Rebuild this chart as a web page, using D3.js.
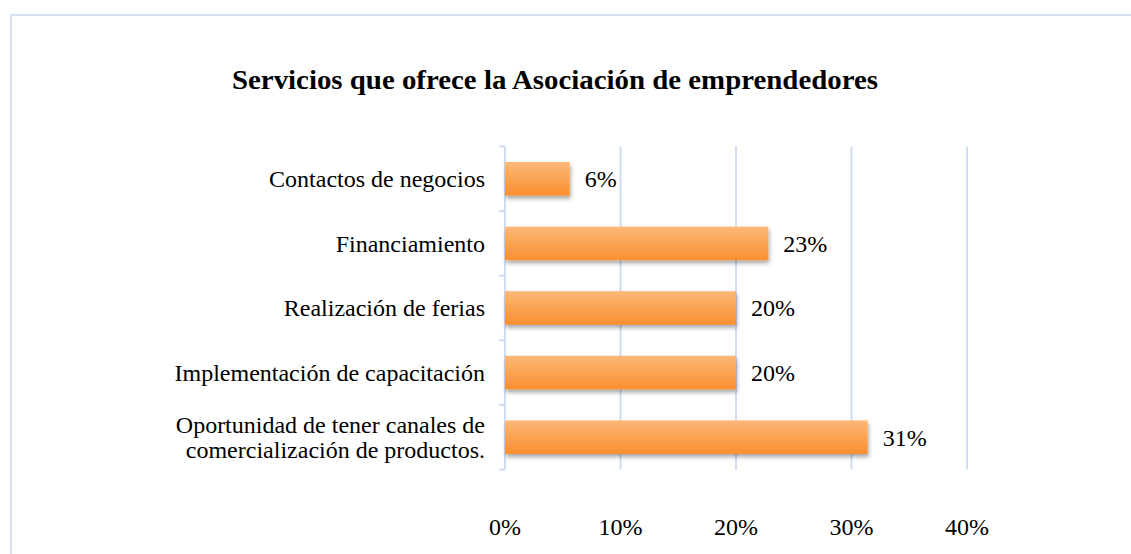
<!DOCTYPE html>
<html lang="es">
<head>
  <meta charset="UTF-8">
  <title>Servicios que ofrece la Asociación de emprendedores</title>
  <script src="https://d3js.org/d3.v7.min.js"></script>
  <style>
    body { margin: 0; background: #fff; }
    svg { display: block; }
    text { font-family: "Liberation Serif", "Times New Roman", serif; fill: #000; }
  </style>
</head>
<body>
  <svg id="svg" width="1131" height="554"></svg>
  <script>
    // datos
    var categories = [
      "Contactos de negocios",
      "Financiamiento",
      "Realización de ferias",
      "Implementación de capacitación",
      "Oportunidad de tener canales de\ncomercialización de productos."
    ];
    var values = [0.056, 0.228, 0.20, 0.20, 0.314];
    var ticks = [0, 0.1, 0.2, 0.3, 0.4];
    var title = "Servicios que ofrece la Asociación de emprendedores";

    var svg = d3.select("#svg"),
      gridColor = "#cfdcf1",
      fs = 24;

    // marco del gráfico
    svg.append("rect")
      .attr("x", 11).attr("y", 15)
      .attr("width", 1140).attr("height", 560)
      .attr("fill", "#fff")
      .attr("stroke", "#d5e1f3")
      .attr("stroke-width", 2);

    svg.append("text")
      .attr("x", 555).attr("y", 89)
      .attr("text-anchor", "middle")
      .attr("font-size", 28)
      .attr("font-weight", "bold")
      .attr("textLength", 646)
      .attr("lengthAdjust", "spacingAndGlyphs")
      .text(title);

    var x = d3.scaleLinear().domain([0, 0.4]).range([505, 967]);
    var y = d3.scaleBand().domain(categories).range([146.5, 469.5]);

    var defs = svg.append("defs");
    var grad = defs.append("linearGradient")
      .attr("id", "barGrad")
      .attr("x1", 0).attr("y1", 0).attr("x2", 0).attr("y2", 1);
    grad.append("stop").attr("offset", "0%").attr("stop-color", "#fdb878");
    grad.append("stop").attr("offset", "100%").attr("stop-color", "#f98f2f");

    var shadow = defs.append("filter")
      .attr("id", "shadow")
      .attr("x", "-5%").attr("y", "-20%")
      .attr("width", "115%").attr("height", "160%");
    shadow.append("feDropShadow")
      .attr("dx", 1).attr("dy", 3)
      .attr("stdDeviation", 2)
      .attr("flood-color", "#000")
      .attr("flood-opacity", 0.35);

    // líneas de cuadrícula
    svg.append("g")
      .selectAll("line")
      .data(ticks.slice(1))
      .enter().append("line")
      .attr("x1", x).attr("x2", x)
      .attr("y1", y.range()[0]).attr("y2", y.range()[1])
      .attr("stroke", gridColor)
      .attr("stroke-width", 2);

    // eje vertical con marcas
    var yAxis = svg.append("g");
    yAxis.append("line")
      .attr("x1", x(0)).attr("x2", x(0))
      .attr("y1", y.range()[0]).attr("y2", y.range()[1])
      .attr("stroke", gridColor)
      .attr("stroke-width", 2);
    yAxis.selectAll(".tk")
      .data(categories.map(function (c) { return y(c); }).concat([y.range()[1]]))
      .enter().append("line")
      .attr("x1", x(0) - 6).attr("x2", x(0))
      .attr("y1", function (d) { return d; })
      .attr("y2", function (d) { return d; })
      .attr("stroke", gridColor)
      .attr("stroke-width", 2);

    var barH = y.bandwidth() * 0.52;

    svg.append("g")
      .selectAll("rect")
      .data(values)
      .enter().append("rect")
      .attr("x", x(0))
      .attr("y", function (d, i) { return y(categories[i]) + (y.bandwidth() - barH) / 2; })
      .attr("width", function (d) { return x(d) - x(0); })
      .attr("height", barH)
      .attr("fill", "url(#barGrad)")
      .attr("filter", "url(#shadow)");

    // etiquetas de valor
    svg.append("g")
      .selectAll("text")
      .data(values)
      .enter().append("text")
      .attr("x", function (d) { return x(d) + 15; })
      .attr("y", function (d, i) { return y(categories[i]) + y.bandwidth() / 2; })
      .attr("dy", "0.35em")
      .attr("font-size", fs)
      .text(function (d) { return Math.round(d * 100) + "%"; });

    // etiquetas de categoría
    var catLabel = svg.append("g")
      .selectAll("text")
      .data(categories)
      .enter().append("text")
      .attr("text-anchor", "end")
      .attr("font-size", fs)
      .attr("y", function (d) { return y(d) + y.bandwidth() / 2; });
    catLabel.each(function (d) {
      var lines = d.split("\n"), t = d3.select(this);
      lines.forEach(function (l, i) {
        t.append("tspan")
          .attr("x", 485)
          .attr("dy", i === 0 ? (0.35 - (lines.length - 1) * 0.52) + "em" : "1.05em")
          .text(l);
      });
    });

    // etiquetas del eje x
    svg.append("g")
      .selectAll("text")
      .data(ticks)
      .enter().append("text")
      .attr("x", x)
      .attr("y", 527)
      .attr("dy", "0.35em")
      .attr("text-anchor", "middle")
      .attr("font-size", fs)
      .text(d3.format(".0%"));
  </script>
</body>
</html>
